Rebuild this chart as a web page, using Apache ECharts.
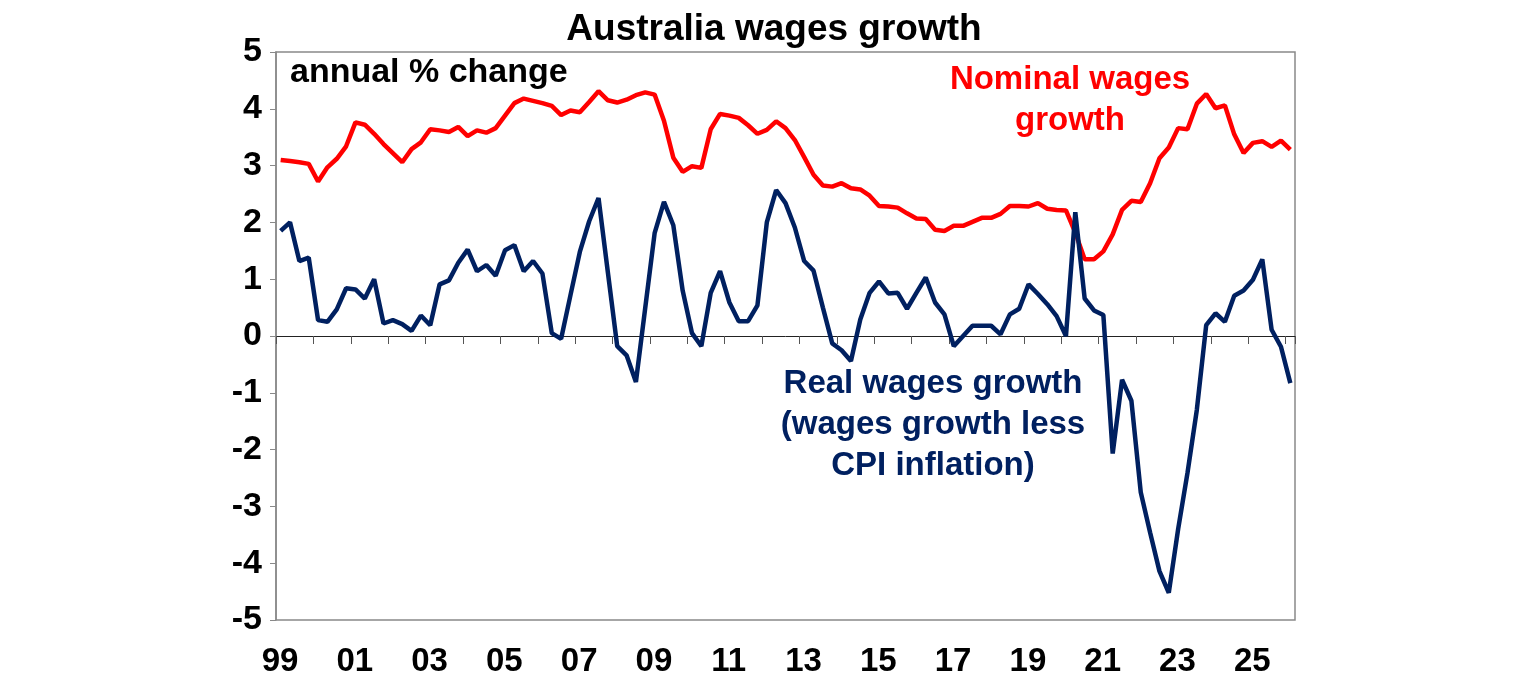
<!DOCTYPE html>
<html>
<head>
<meta charset="utf-8">
<title>Australia wages growth</title>
<script src="https://cdn.jsdelivr.net/npm/echarts@6/dist/echarts.min.js"></script>
<style>
html, body { margin: 0; padding: 0; background: #fff; }
#chart { width: 1536px; height: 680px; }
</style>
</head>
<body>
<div id="chart"></div>
<script>
// quarterly, Mar-1999 .. Mar-2026, annual % change
var firstYear = 1999;
var nominalWages = [
	3.10, 3.08, 3.06, 3.03, 2.72, 2.97, 3.12, 3.34, 3.76, 3.72, 3.56, 3.38, 3.22, 3.06, 3.29, 3.41, 3.64, 3.62, 3.59, 3.68, 3.52, 3.62,
	3.58, 3.66, 3.88, 4.10, 4.18, 4.14, 4.10, 4.05, 3.89, 3.97, 3.94, 4.12, 4.31, 4.15, 4.11, 4.16, 4.24, 4.29, 4.25, 3.79, 3.14, 2.89,
	2.99, 2.96, 3.64, 3.91, 3.88, 3.84, 3.71, 3.56, 3.63, 3.78, 3.66, 3.45, 3.15, 2.84, 2.65, 2.63, 2.69, 2.60, 2.58, 2.47, 2.29, 2.28,
	2.26, 2.16, 2.07, 2.06, 1.87, 1.85, 1.94, 1.94, 2.01, 2.08, 2.08, 2.15, 2.29, 2.29, 2.28, 2.34, 2.24, 2.22, 2.21, 1.82, 1.35, 1.35,
	1.49, 1.79, 2.22, 2.38, 2.36, 2.69, 3.13, 3.32, 3.66, 3.64, 4.09, 4.26, 4.01, 4.06, 3.55, 3.22, 3.40, 3.43, 3.33, 3.44, 3.28
];
var realWages = [
	1.85, 2.00, 1.32, 1.38, 0.28, 0.25, 0.47, 0.84, 0.82, 0.66, 1.00, 0.22, 0.28, 0.21, 0.09, 0.36, 0.19, 0.91, 0.98, 1.29, 1.52, 1.14,
	1.25, 1.06, 1.51, 1.60, 1.14, 1.32, 1.10, 0.05, -0.05, 0.72, 1.48, 2.02, 2.43, 1.12, -0.18, -0.34, -0.81, 0.50, 1.81, 2.36, 1.95, 0.80,
	0.05, -0.18, 0.76, 1.14, 0.59, 0.26, 0.26, 0.54, 2.00, 2.57, 2.34, 1.91, 1.32, 1.15, 0.50, -0.13, -0.25, -0.44, 0.29, 0.76, 0.96, 0.75,
	0.76, 0.48, 0.76, 1.03, 0.59, 0.38, -0.18, 0.00, 0.18, 0.18, 0.18, 0.03, 0.38, 0.48, 0.91, 0.74, 0.56, 0.35, 0.00, 2.18, 0.66, 0.45,
	0.37, -2.07, -0.77, -1.14, -2.75, -3.46, -4.14, -4.52, -3.40, -2.41, -1.30, 0.19, 0.40, 0.25, 0.71, 0.80, 0.99, 1.35, 0.11, -0.19, -0.83
];
var yTicks = [-5, 5, 1]; // min, max, step

var fontFam = '"Liberation Sans", Arial, sans-serif';
var red = '#ff0000';
var navy = '#002060';
var frameGrey = '#898989';

// each quarter plotted at its middle on a decimal-year axis
function toPairs(values) {
	var out = [];
	for (var i = 0; i < values.length; i++) {
		out.push([firstYear + (i + 0.5) / 4, values[i]]);
	}
	return out;
}

var chart = echarts.init(document.getElementById('chart'), null, { renderer: 'canvas' });

var option = {
	animation: false,
	title: {
		text: 'Australia wages growth',
		left: 769,
		textAlign: 'center',
		top: 6,
		textStyle: { fontFamily: fontFam, fontSize: 37, fontWeight: 'bold', color: '#000' }
	},
	grid: {
		left: 276,
		right: 241,
		top: 52,
		bottom: 60,
		show: true,
		borderColor: frameGrey,
		borderWidth: 1.5
	},
	xAxis: [{
		// line + ticks sitting on zero
		type: 'value',
		min: firstYear,
		max: firstYear + 27.25,
		interval: 1,
		axisLine: { onZero: true, lineStyle: { color: '#222', width: 1 } },
		axisTick: { show: true, inside: false, length: 8, lineStyle: { color: '#555', width: 1 } },
		axisLabel: { show: false },
		splitLine: { show: false }
	}, {
		// labels along the bottom
		type: 'value',
		position: 'bottom',
		min: firstYear,
		max: firstYear + 27.25,
		interval: 1,
		axisLine: { show: false },
		axisTick: { show: false },
		splitLine: { show: false },
		axisLabel: {
			show: true,
			margin: 25,
			showMaxLabel: false,
			padding: [0, 0, 0, 8],
			fontFamily: fontFam,
			fontSize: 33,
			fontWeight: 'bold',
			color: '#000',
			formatter: function (v) {
				if (Math.round(v) !== v || v % 2 !== 1) return '';
				return String(v % 100).padStart(2, '0');
			}
		}
	}],
	yAxis: {
		type: 'value',
		min: yTicks[0],
		max: yTicks[1],
		interval: yTicks[2],
		axisLine: { show: true, onZero: false, lineStyle: { color: frameGrey, width: 1.5 } },
		axisTick: { show: true, inside: false, length: 6, lineStyle: { color: frameGrey } },
		splitLine: { show: false },
		axisLabel: {
			margin: 14,
			fontFamily: fontFam,
			fontSize: 34,
			fontWeight: 'bold',
			color: '#000'
		}
	},
	series: [{
		name: 'Nominal wages growth',
		type: 'line',
		data: toPairs(nominalWages),
		showSymbol: false,
		symbol: 'none',
		lineStyle: { color: red, width: 4.5 },
		itemStyle: { color: red }
	}, {
		name: 'Real wages growth',
		type: 'line',
		data: toPairs(realWages),
		showSymbol: false,
		symbol: 'none',
		lineStyle: { color: navy, width: 4.5 },
		itemStyle: { color: navy }
	}],
	graphic: [{
		type: 'text',
		left: 290,
		top: 56,
		style: { text: 'annual % change', fontFamily: fontFam, fontSize: 34, fontWeight: 'bold', fill: '#000' }
	}, {
		type: 'text',
		x: 1070,
		y: 100,
		style: {
			text: 'Nominal wages\ngrowth',
			fontFamily: fontFam, fontSize: 33, fontWeight: 'bold', fill: red,
			align: 'center', verticalAlign: 'middle', lineHeight: 41
		}
	}, {
		type: 'text',
		x: 933,
		y: 425,
		style: {
			text: 'Real wages growth\n(wages growth less\nCPI inflation)',
			fontFamily: fontFam, fontSize: 33, fontWeight: 'bold', fill: navy,
			align: 'center', verticalAlign: 'middle', lineHeight: 41
		}
	}]
};

chart.setOption(option);
</script>
</body>
</html>
